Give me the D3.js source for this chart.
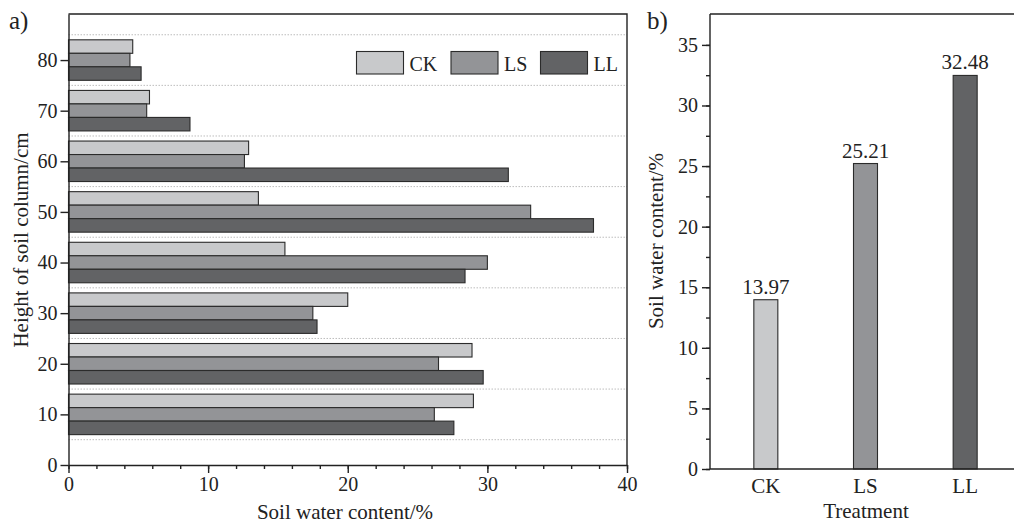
<!DOCTYPE html>
<html lang="en">
<head>
<meta charset="UTF-8">
<title>Soil water content</title>
<style>
  body { margin: 0; background: #fff; }
  svg { display: block; }
  text { font-family: "Liberation Serif", "DejaVu Serif", serif; fill: #222; }
  .axis path, .axis line { stroke: #222; stroke-width: 1.4; }
  .axis text { font-family: "Liberation Serif", serif; font-size: 20px; fill: #222; }
</style>
</head>
<body>
<svg id="chart"></svg>
<script src="https://cdn.jsdelivr.net/npm/d3@7"></script>
<script>
// data
var heights = [10, 20, 30, 40, 50, 60, 70, 80];
var treatments = ["CK", "LS", "LL"];
var ckVals = [29.0, 28.9, 20.0, 15.5, 13.6, 12.9, 5.8, 4.6];
var lsVals = [26.2, 26.5, 17.5, 30.0, 33.1, 12.6, 5.6, 4.4];
var llVals = [27.6, 29.7, 17.8, 28.4, 37.6, 31.5, 8.7, 5.2];
var meanVals = [13.97, 25.21, 32.48];
var gridLevels = [5, 15, 25, 35, 45, 55, 65, 75, 85];
var colors = {CK: "#c8c9cb", LS: "#939497", LL: "#626365"};

var w = 1014, h = 524;
var svg = d3.select("#chart").attr("width", w).attr("height", h);

// ---------- panel a ----------
var a = {left: 68.5, right: 627, top: 14, bottom: 465};
var xA = d3.scaleLinear().domain([0, 40]).range([a.left, a.right]);
var yA = d3.scaleLinear().domain([0, 89.1]).range([a.bottom, a.top]);

// dotted grid lines
svg.append("g").selectAll("line").data(gridLevels).enter().append("line")
  .attr("x1", a.left).attr("x2", a.right)
  .attr("y1", function(d){ return yA(d); })
  .attr("y2", function(d){ return yA(d); })
  .attr("stroke", "#bdbdbd").attr("stroke-width", 1)
  .attr("stroke-dasharray", "1.5,1.5");

// bars: CK top, LS middle, LL bottom, each 8/3 units tall
var barH = 8 / 3;
var seriesA = [
  {key: "CK", vals: ckVals, off: 1},
  {key: "LS", vals: lsVals, off: 0},
  {key: "LL", vals: llVals, off: -1}
];
var barsA = svg.append("g");
seriesA.forEach(function(s) {
  barsA.selectAll("rect." + s.key).data(heights).enter().append("rect")
    .attr("class", s.key)
    .attr("x", xA(0))
    .attr("y", function(d){ return yA(d + s.off * barH + barH / 2); })
    .attr("width", function(d, i){ return xA(s.vals[i]) - xA(0); })
    .attr("height", yA(0) - yA(barH))
    .attr("fill", colors[s.key])
    .attr("stroke", "#2b2b2b").attr("stroke-width", 1.1);
});

// x axis a (major + minor)
svg.append("g").attr("class", "axis")
  .attr("transform", "translate(0," + a.bottom + ")")
  .call(d3.axisBottom(xA).tickValues(d3.range(0, 41, 2)).tickSize(4).tickFormat(""))
  .select(".domain").remove();
svg.append("g").attr("class", "axis")
  .attr("transform", "translate(0," + a.bottom + ")")
  .call(d3.axisBottom(xA).tickValues([0, 10, 20, 30, 40]).tickSize(8).tickSizeOuter(0).tickPadding(4));

// y axis a
svg.append("g").attr("class", "axis")
  .attr("transform", "translate(" + a.left + ",0)")
  .call(d3.axisLeft(yA).tickValues([0, 10, 20, 30, 40, 50, 60, 70, 80]).tickSize(8).tickSizeOuter(0).tickPadding(3));

// frame top and right
svg.append("path")
  .attr("d", "M" + a.left + "," + a.top + "H" + a.right + "V" + a.bottom)
  .attr("fill", "none").attr("stroke", "#222").attr("stroke-width", 1.4);

// legend
var legX = [356.5, 451, 540.5];
var leg = svg.append("g");
treatments.forEach(function(t, i) {
  leg.append("rect").attr("x", legX[i]).attr("y", 51.5).attr("width", 47).attr("height", 22.5)
    .attr("fill", colors[t]).attr("stroke", "#2b2b2b").attr("stroke-width", 1.1);
  leg.append("text").attr("x", legX[i] + 53).attr("y", 70.5).attr("font-size", 20).text(t);
});

// titles a
svg.append("text").attr("x", 9).attr("y", 29).attr("font-size", 25).text("a)");
svg.append("text").attr("x", 345).attr("y", 519)
  .attr("text-anchor", "middle").attr("font-size", 21).text("Soil water content/%");
svg.append("text").attr("transform", "translate(28,240) rotate(-90)")
  .attr("text-anchor", "middle").attr("font-size", 21).text("Height of soil column/cm");

// ---------- panel b ----------
var b = {left: 710, right: 1014, top: 14, bottom: 469};
var xB = d3.scaleBand().domain(treatments).range([716, 1015]);
var yB = d3.scaleLinear().domain([0, 37.55]).range([b.bottom, b.top]);
var barW = 24;

svg.append("g").selectAll("rect").data(meanVals).enter().append("rect")
  .attr("x", function(d, i){ return xB(treatments[i]) + xB.bandwidth() / 2 - barW / 2; })
  .attr("y", function(d){ return yB(d); })
  .attr("width", barW)
  .attr("height", function(d){ return yB(0) - yB(d); })
  .attr("fill", function(d, i){ return colors[treatments[i]]; })
  .attr("stroke", "#2b2b2b").attr("stroke-width", 1.1);

svg.append("g").selectAll("text").data(meanVals).enter().append("text")
  .attr("x", function(d, i){ return xB(treatments[i]) + xB.bandwidth() / 2; })
  .attr("y", function(d){ return yB(d) - 6; })
  .attr("text-anchor", "middle").attr("font-size", 21)
  .text(function(d){ return d.toFixed(2); });

// y axis b (minor + major)
svg.append("g").attr("class", "axis")
  .attr("transform", "translate(" + b.left + ",0)")
  .call(d3.axisLeft(yB).tickValues(d3.range(0, 37.5, 2.5)).tickSize(4).tickFormat(""))
  .select(".domain").remove();
svg.append("g").attr("class", "axis")
  .attr("transform", "translate(" + b.left + ",0)")
  .call(d3.axisLeft(yB).tickValues([0, 5, 10, 15, 20, 25, 30, 35]).tickSize(8).tickSizeOuter(0).tickPadding(4))
  .select(".domain").attr("d", "M0," + b.top + "V" + b.bottom);

// x axis b
var gxB = svg.append("g").attr("class", "axis")
  .attr("transform", "translate(0," + b.bottom + ")")
  .call(d3.axisBottom(xB).tickSize(0).tickPadding(9));
gxB.select(".domain").attr("d", "M" + b.left + ",0H" + b.right);
gxB.selectAll("text").attr("font-size", 21).style("font-size", "21px");

// frame top
svg.append("line").attr("x1", b.left).attr("x2", b.right).attr("y1", b.top).attr("y2", b.top)
  .attr("stroke", "#222").attr("stroke-width", 1.4);

// titles b
svg.append("text").attr("x", 647).attr("y", 29).attr("font-size", 25).text("b)");
svg.append("text").attr("x", 866).attr("y", 518)
  .attr("text-anchor", "middle").attr("font-size", 21).text("Treatment");
svg.append("text").attr("transform", "translate(663,241) rotate(-90)")
  .attr("text-anchor", "middle").attr("font-size", 21).text("Soil water content/%");
</script>
</body>
</html>
